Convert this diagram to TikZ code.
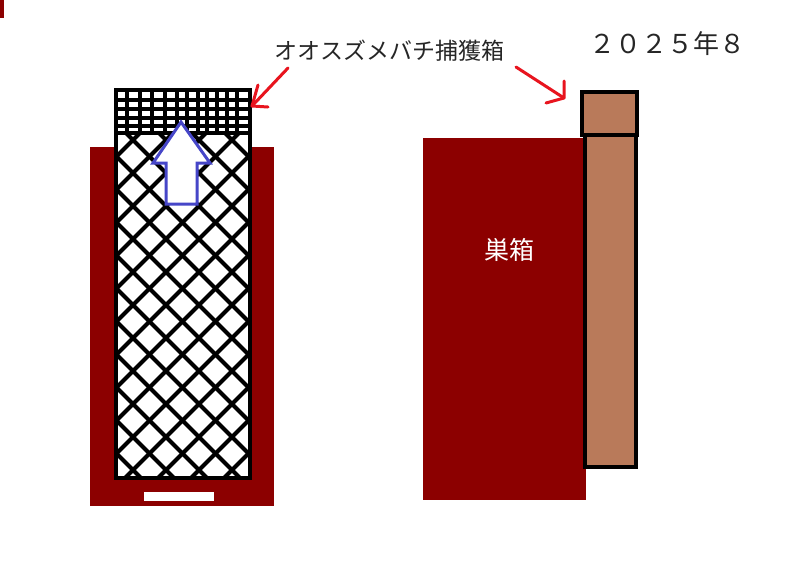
\documentclass[tikz,border=0pt]{standalone}
\usepackage{fontspec}
\newfontfamily\jp{Noto Sans CJK JP}
\definecolor{nestred}{RGB}{140,0,0}
\definecolor{trapbrown}{RGB}{185,122,90}
\definecolor{arrowblue}{RGB}{70,70,200}
\definecolor{markred}{RGB}{232,20,30}
\tikzset{
  redarrow/.style={draw=markred,line width=3pt,line cap=round,line join=round},
  netline/.style={draw=black,line width=4pt,line cap=round},
  gridline/.style={draw=black,line width=3.4pt},
  boxline/.style={draw=black,line width=4.5pt},
  txt/.style={inner sep=0pt,font=\jp}
}
\begin{document}
\begin{tikzpicture}[x=1pt,y=-1pt]
\useasboundingbox (0,0) rectangle (800,566);
\fill[white] (0,0) rectangle (800,566);
% top-left mark
\fill[nestred] (0,0) rectangle (4,18);
% ---------- left: nest box seen from front ----------
\fill[nestred] (90,147) rectangle (274,506);
\fill[white] (144,492) rectangle (214,501);
% net body
\fill[white] (116,133) rectangle (250,478);
\begin{scope}
  \clip (116,133) rectangle (250,478);
  \foreach \k in {-370,-337,...,140} {
    \draw[netline] (\k+133,133) -- (\k+478,478);
  }
  \foreach \k in {240,273,...,740} {
    \draw[netline] (\k-133,133) -- (\k-478,478);
  }
\end{scope}
\draw[boxline] (116,133) rectangle (250,478);
% grid top
\fill[white] (116,90) rectangle (250,133);
\foreach \x in {127,140,152,165,177,187,198,207,217,227,237} {
  \draw[gridline] (\x,88) -- (\x,133);
}
\foreach \y in {100,109,118,126} {
  \draw[gridline] (116,\y) -- (250,\y);
}
\draw[boxline] (116,90) rectangle (250,133);
% blue arrow
\draw[arrowblue,fill=white,line width=3pt,line join=miter]
  (181,122) -- (210,163) -- (197,163) -- (197,204) -- (166,204) -- (166,163) -- (153,163) -- cycle;
% ---------- right: side view ----------
\fill[nestred] (423,138) rectangle (586,500);
\node[txt,text=white,font=\jp\fontsize{25}{30}\selectfont] (nest) at (509,250) {巣箱};
\draw[boxline,fill=trapbrown] (585,135) rectangle (636,467);
\draw[boxline,fill=trapbrown] (582,92) rectangle (637,135);
% ---------- labels ----------
\node[txt,text=black!85,font=\jp\fontsize{23}{28}\selectfont] (label) at (389,51) {オオスズメバチ捕獲箱};
\node[txt,text=black!85,font=\jp\fontsize{26}{30}\selectfont] (date) at (667,44) {２０２５年８};
% red arrows
\coordinate (a1s) at (288,68);
\coordinate (a1t) at (252,106);
\draw[redarrow] (a1s) -- (a1t);
\draw[redarrow] (258,85) -- (a1t) -- (268,107);
\coordinate (a2s) at (516,67);
\coordinate (a2t) at (564,98);
\draw[redarrow] (a2s) -- (a2t);
\draw[redarrow] (564,81) -- (a2t) -- (546,103);
\end{tikzpicture}
\end{document}
